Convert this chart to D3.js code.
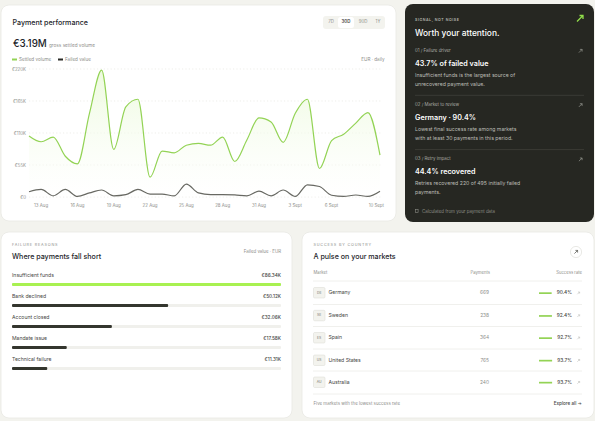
<!DOCTYPE html>
<html><head><meta charset="utf-8">
<script src="https://cdnjs.cloudflare.com/ajax/libs/d3/7.8.5/d3.min.js"></script>
<style>html,body{margin:0;padding:0;background:#f3f3ee;overflow:hidden}svg{display:block}text{font-family:Inter,"Noto Sans",sans-serif}</style>
</head><body><svg id="c" width="595" height="421"></svg>
<script>
const dayNames = ["12 Aug","13 Aug","14 Aug","15 Aug","16 Aug","17 Aug","18 Aug","19 Aug","20 Aug","21 Aug","22 Aug","23 Aug","24 Aug","25 Aug","26 Aug","27 Aug","28 Aug","29 Aug","30 Aug","31 Aug","1 Sept","2 Sept","3 Sept","4 Sept","5 Sept","6 Sept","7 Sept","8 Sept","9 Sept","10 Sept"];
const settled = [105,95,103,70,57,144,218,82,155,168,34,79,76,89,92,89,103,61,98,136,129,94,144,168,49,97,108,127,145,72];
const failed = [9,13,2,13,1,7,12,2,4,13,5,5,2,22,7,4,4,3.5,2,10,2,12,1,21,18,3,1,3.4,1,10];
const yTickValues = [0,55,110,165,220];
const xTickLabels = ["13 Aug","16 Aug","19 Aug","22 Aug","25 Aug","28 Aug","31 Aug","3 Sept","6 Sept","10 Sept"];
const ranges = ["7D","30D","90D","1Y"];
const reasons = ["Insufficient funds","Bank declined","Account closed","Mandate issue","Technical failure"];
const reasonValues = [86.34,50.12,32.06,17.58,11.31];
const markets = ["Germany","Sweden","Spain","United States","Australia"];
const codes = ["DE","SE","ES","US","AU"];
const payments = [669,238,364,765,240];
const rates = [90.4,92.4,92.7,93.7,93.7];

const svg = d3.select("#c");
function T(s,x,y,size,fill,o={}){
  const t = svg.append("text").attr("x",x).attr("y",y).attr("dy","0.35em").attr("font-size",size).attr("fill",fill).text(s);
  if(o.a) t.attr("text-anchor",o.a);
  if(o.w) t.attr("font-weight",o.w);
  if(o.ls) t.attr("letter-spacing",o.ls);
  return t;
}
function card(x,y,w,h,f,s){svg.append("rect").attr("x",x).attr("y",y).attr("width",w).attr("height",h).attr("rx",8).attr("fill",f).attr("stroke",s||"none").attr("stroke-width",0.8);}
const INK="#23252a", MUTE="#8d8e8a", GREEN="#93d355";

// backgrounds
card(1,5,395,216,"#fff","#e8e8e3");
card(405,4,189,218,"#262722");
card(1,232,291,186,"#fff","#e8e8e3");
card(302,232,292,186,"#fff","#e8e8e3");

// payment performance
T("Payment performance",12.5,22.5,7.1,INK,{w:500});
T("€3.19M",13,43.5,9.8,INK,{w:500});
T("gross settled volume",49,45.5,4.7,MUTE);
svg.append("rect").attr("x",12).attr("y",58.5).attr("width",5).attr("height",2).attr("fill",GREEN);
T("Settled volume",19,59.3,4.6,MUTE);
svg.append("rect").attr("x",58).attr("y",58.5).attr("width",5).attr("height",2).attr("fill","#2a2b27");
T("Failed value",65,59.3,4.6,MUTE);
T("EUR · daily",384.5,59.3,4.6,MUTE,{a:"end"});
svg.append("rect").attr("x",323).attr("y",16).attr("width",62).attr("height",13).attr("rx",3).attr("fill","#f3f3ee");
svg.append("rect").attr("x",338).attr("y",17).attr("width",16).attr("height",11).attr("rx",2.5).attr("fill","#fff");
const rangeX=d3.scalePoint().domain(ranges).range([331,378]);
const rangeOffsets=[0,-0.7,0.7,0];
ranges.forEach((r,i)=>T(r,rangeX(r)+rangeOffsets[i],21.5,4.4,i==1?"#44463f":MUTE,{a:"middle",w:i==1?600:400}));

const x=d3.scalePoint().domain(dayNames).range([29,380]);
const y=d3.scaleLinear().domain([0,220]).range([197,69]);
const defs=svg.append("defs");
const g=defs.append("linearGradient").attr("id","ag").attr("x1",0).attr("x2",0).attr("y1",0).attr("y2",1);
g.append("stop").attr("offset",0).attr("stop-color","#e9f9d6").attr("stop-opacity",.8);
g.append("stop").attr("offset",1).attr("stop-color","#fff").attr("stop-opacity",0.3);
const plot=svg.append("g");
plot.selectAll("line.g").data(yTickValues).join("line").attr("x1",29).attr("x2",381).attr("y1",d=>y(d)).attr("y2",d=>y(d)).attr("stroke","#e6e6e1").attr("stroke-width",.7).attr("stroke-dasharray","1.2 2.2");
const curve=d3.curveMonotoneX;
plot.append("path").datum(settled).attr("fill","url(#ag)").attr("d",d3.area().x((d,i)=>x(dayNames[i])).y0(y(0)).y1(d=>y(d)).curve(curve));
plot.append("path").datum(settled).attr("fill","none").attr("stroke",GREEN).attr("stroke-width",1.2).attr("d",d3.line().x((d,i)=>x(dayNames[i])).y(d=>y(d)).curve(curve));
plot.append("path").datum(failed).attr("fill","none").attr("stroke","#686963").attr("stroke-width",1.2).attr("d",d3.line().x((d,i)=>x(dayNames[i])).y(d=>y(d)).curve(curve));
yTickValues.forEach(v=>T(v?`€${v}K`:"€0",26,y(v),4.4,MUTE,{a:"end"}));
xTickLabels.forEach(l=>{
  const last=l==="10 Sept";
  T(l,last?384:x(l),205.3,4.4,MUTE,{a:last?"end":"middle"});
});

// dark card
const W="#ffffff", DM="#a9aaa3", DD="#8b8c85";
T("SIGNAL, NOT NOISE",415,19.5,3.6,"#b5b6ae",{ls:.55,w:600});
svg.append("path").attr("d","M577 21.5L583 15.5M579.5 15.5H583V19").attr("fill","none").attr("stroke","#8fdc4a").attr("stroke-width",1.3);
T("Worth your attention.",415,33,8.4,W,{w:500});
function arrow(ax,ay,c,s=1){svg.append("path").attr("d",`M${ax-1.6*s} ${ay+1.6*s}L${ax+1.6*s} ${ay-1.6*s}M${ax-.6*s} ${ay-1.6*s}H${ax+1.6*s}V${ay+.6*s}`).attr("fill","none").attr("stroke",c).attr("stroke-width",.7);}
const insights=[
 ["01 / Failure driver","43.7% of failed value",["Insufficient funds is the largest source of","unrecovered payment value."]],
 ["02 / Market to review","Germany · 90.4%",["Lowest final success rate among markets","with at least 30 payments in this period."]],
 ["03 / Retry impact","44.4% recovered",["Retries recovered 220 of 495 initially failed","payments."]]];
insights.forEach((d,i)=>{
  const o=i*54.3;
  T(d[0],415,50.3+o,4.4,DM);
  arrow(580.5,51+o,"#9a9b94");
  T(d[1],415,63+o,7.2,W,{w:600});
  d[2].forEach((l,j)=>T(l,415,75+o+j*9,5.2,"#bcbdb6"));
  if(i<2) svg.append("line").attr("x1",415).attr("x2",584).attr("y1",95.3+o).attr("y2",95.3+o).attr("stroke","#43443e").attr("stroke-width",.7);
});
svg.append("rect").attr("x",415.5).attr("y",209.5).attr("width",2.6).attr("height",3).attr("fill","none").attr("stroke",DD).attr("stroke-width",.6);
T("Calculated from your payment data",422,211.2,4.4,DD);

// failure reasons
T("FAILURE REASONS",12,244.3,3.8,MUTE,{ls:.8});
T("Where payments fall short",12,256.3,7.1,INK,{w:500});
T("Failed value · EUR",281,251.3,4.4,MUTE,{a:"end"});
const bx=d3.scaleLinear().domain([0,d3.max(reasonValues)]).range([0,269]);
const by=d3.scalePoint().domain(reasons).range([283,367]);
reasons.forEach((r,i)=>{
  const b=by(r);
  T(r,12,b-8,5.1,"#45463f");
  T(`€${reasonValues[i].toFixed(2)}K`,281,b-8,4.7,"#45463f",{a:"end",w:500});
  svg.append("rect").attr("x",12).attr("y",b).attr("width",269).attr("height",3).attr("rx",1).attr("fill","#f0f0ec");
  svg.append("rect").attr("x",12).attr("y",b).attr("width",bx(reasonValues[i])).attr("height",3).attr("rx",1).attr("fill",i==0?"#a8f151":"#34362e");
});

// markets
T("SUCCESS BY COUNTRY",313.5,244.3,3.8,MUTE,{ls:.8});
T("A pulse on your markets",313.5,256.3,7.1,INK,{w:500});
svg.append("circle").attr("cx",576).attr("cy",252).attr("r",5.6).attr("fill","#fff").attr("stroke","#dfdfda").attr("stroke-width",.7);
arrow(576,252,"#45463f");
T("Market",313.5,273,4.2,MUTE);
T("Payments",490,273,4.2,MUTE,{a:"end"});
T("Success rate",582,273,4.2,MUTE,{a:"end"});
const sepYs=[281,304.5,326.5,349,371,394];
sepYs.forEach(s=>svg.append("line").attr("x1",313).attr("x2",582).attr("y1",s).attr("y2",s).attr("stroke","#ecece8").attr("stroke-width",.8));
const rowY=d3.scaleOrdinal().domain(markets).range([292.5,315.3,337.5,360,382]);
const rw=d3.scaleLinear().domain([0,100]).range([0,14]);
markets.forEach((m,i)=>{
  const r=rowY(m);
  svg.append("rect").attr("x",313.5).attr("y",r-5).attr("width",11.5).attr("height",10.5).attr("rx",1.2).attr("fill","#f3f3ee").attr("stroke","#d8d8d3").attr("stroke-width",.5);
  T(codes[i],319.2,r,3.4,"#77786f",{a:"middle"});
  T(m,328.5,r,5.1,"#45463f");
  T(payments[i],489,r,4.8,MUTE,{a:"end"});
  svg.append("rect").attr("x",539).attr("y",r-.2).attr("width",rw(rates[i])).attr("height",1.7).attr("fill",GREEN);
  T(rates[i].toFixed(1)+"%",572,r,4.8,"#45463f",{a:"end",w:500});
  arrow(578.5,r+.6,"#c6c6c1",.7);
});
T("Five markets with the lowest success rate",313.5,403.5,4.4,MUTE);
T("Explore all →",582,403.5,4.6,"#45463f",{a:"end",w:500});
</script></body></html>
